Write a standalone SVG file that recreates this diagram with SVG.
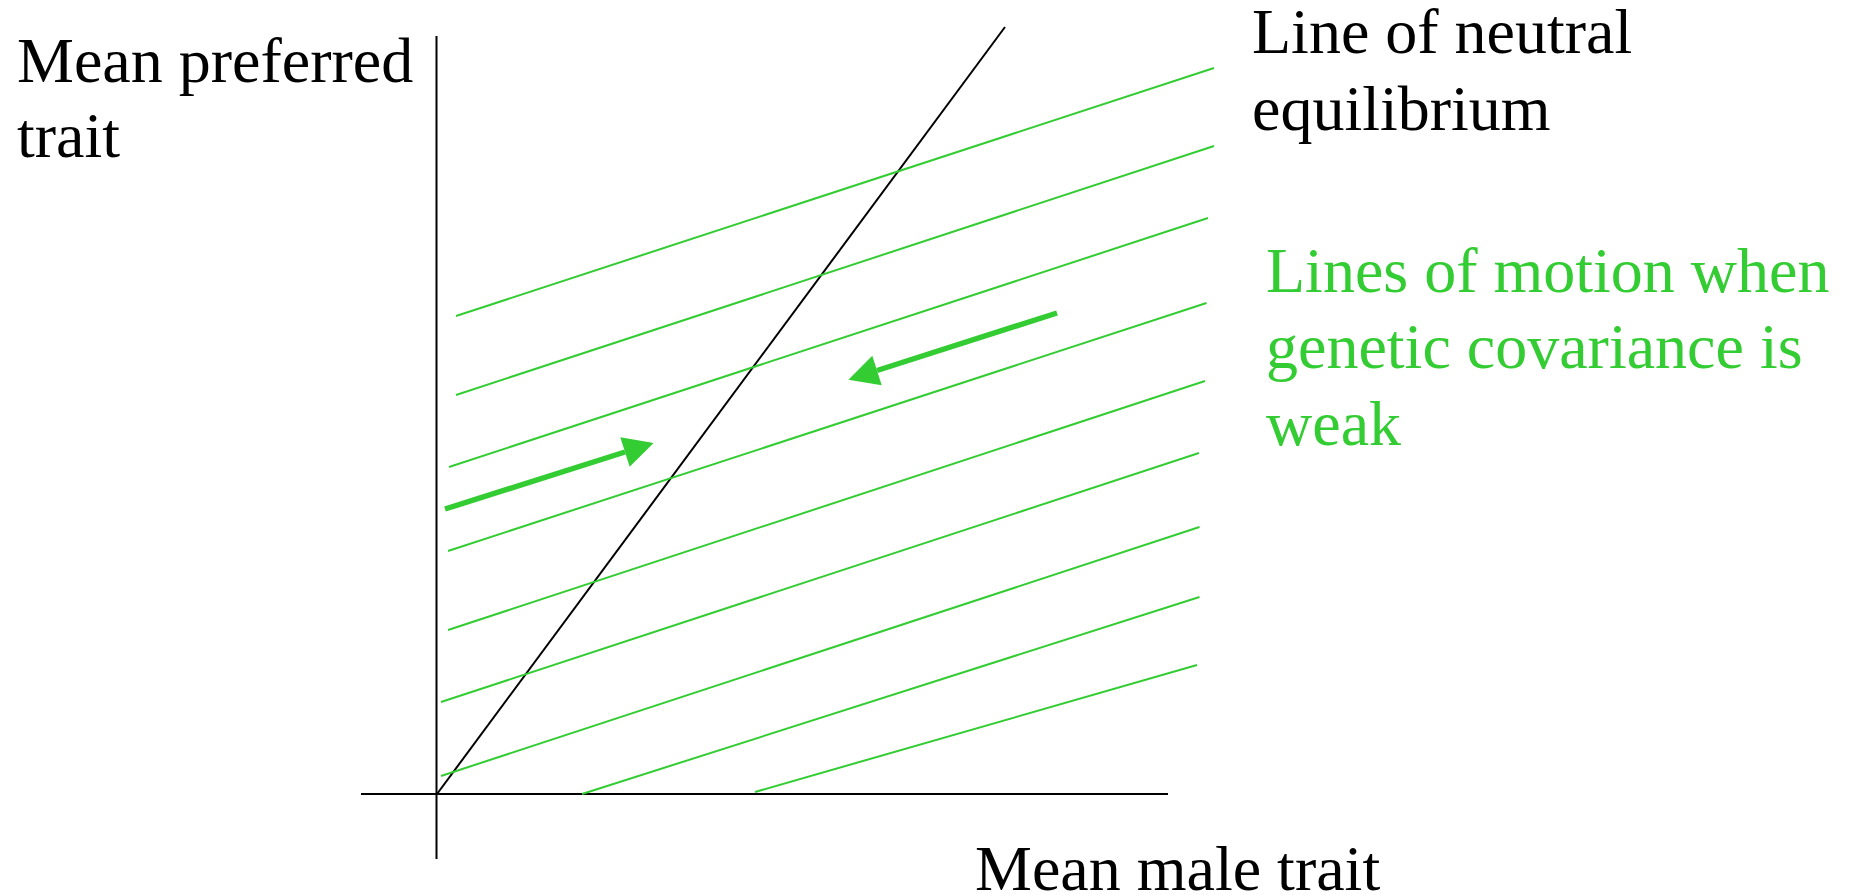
<svg xmlns="http://www.w3.org/2000/svg" width="1852" height="895" viewBox="0 0 1852 895">
<style>
.t{font-family:"Liberation Serif","Times New Roman",serif;font-size:64px;fill:#000}
.g{fill:#33cc33}
.ax{stroke:#000;stroke-width:2;fill:none}
.ml{stroke:#33cc33;stroke-width:2;fill:none}
.arr{stroke:#33cc33;stroke-width:5.5;fill:none}
</style>
<defs>
<marker id="ah" markerUnits="userSpaceOnUse" markerWidth="32" markerHeight="32" refX="0" refY="15.5" orient="auto" overflow="visible">
<path d="M0,0 L30,15.5 L0,31 Z" fill="#33cc33"/>
</marker>
</defs>
<rect width="1852" height="895" fill="#fff"/>
<g id="axes">
<line class="ax" x1="436.5" y1="36" x2="436.5" y2="859"/>
<line class="ax" x1="361" y1="794" x2="1168" y2="794"/>
</g>
<g id="neutral-line">
<line class="ax" x1="437" y1="794" x2="1005" y2="27"/>
</g>
<g id="motion-lines">
<line class="ml" x1="456" y1="316" x2="1214" y2="68"/>
<line class="ml" x1="456" y1="395" x2="1214" y2="146"/>
<line class="ml" x1="449" y1="467" x2="1208" y2="218"/>
<line class="ml" x1="448" y1="551" x2="1206.5" y2="303"/>
<line class="ml" x1="448" y1="630" x2="1205" y2="381"/>
<line class="ml" x1="441" y1="702" x2="1199" y2="453"/>
<line class="ml" x1="441" y1="776" x2="1199.5" y2="527"/>
<line class="ml" x1="582" y1="794" x2="1199.5" y2="597"/>
<line class="ml" x1="755" y1="792" x2="1197" y2="665"/>
</g>
<g id="connectors">
<line class="arr" x1="445" y1="509" x2="625" y2="452" marker-end="url(#ah)"/>
<line class="arr" x1="1057" y1="313" x2="877" y2="370.5" marker-end="url(#ah)"/>
</g>
<g id="label-y">
<text class="t" x="17" y="82">Mean preferred</text>
<text class="t" x="17" y="157">trait</text>
</g>
<g id="label-neutral">
<text class="t" x="1252" y="53">Line of neutral</text>
<text class="t" x="1252" y="130">equilibrium</text>
</g>
<g id="label-motion">
<text class="t g" x="1266" y="292">Lines of motion when</text>
<text class="t g" x="1266" y="368">genetic covariance is</text>
<text class="t g" x="1266" y="445">weak</text>
</g>
<g id="label-x">
<text class="t" x="975" y="890">Mean male trait</text>
</g>
</svg>
